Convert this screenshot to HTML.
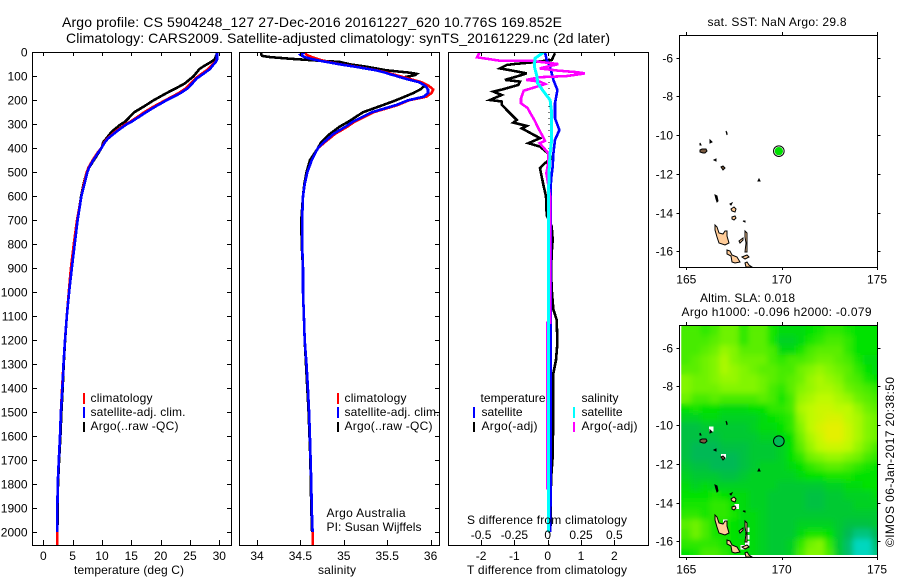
<!DOCTYPE html>
<html>
<head>
<meta charset="utf-8">
<title>Argo profile</title>
<style>
html,body{margin:0;padding:0;background:#fff;width:900px;height:580px;overflow:hidden}
svg{display:block}
text{font-family:"Liberation Sans",sans-serif;font-size:12px;fill:#000}
</style>
</head>
<body>
<svg id="chart" xmlns="http://www.w3.org/2000/svg" width="900" height="580" viewBox="0 0 900 580">
<defs>
<clipPath id="heat-clip"><rect x="681" y="326" width="196" height="229"/></clipPath>
<clipPath id="p1-clip"><rect x="32" y="52" width="200" height="493"/></clipPath>
<clipPath id="p2-clip"><rect x="239" y="52" width="201" height="493"/></clipPath>
<clipPath id="p3-clip"><rect x="448" y="52" width="201" height="493"/></clipPath>
<filter id="heat-smooth" filterUnits="userSpaceOnUse" x="670" y="315" width="220" height="250">
<feGaussianBlur in="SourceGraphic" stdDeviation="3" result="soft"/>
<feMerge><feMergeNode in="SourceGraphic"/><feMergeNode in="soft"/></feMerge>
</filter>
<g id="islands" stroke="#000" stroke-width="1" fill="#ffcc99">
<polygon points="715,225 717,227 719,233 723,234 725,231 727,231 727,236 729,243 725,245 719,243 717,237 715,230"/>
<polygon points="727,250 730,251 732,255 737,257 740,262 735,263 732,262 731,256 727,254"/>
<polygon points="739,241 743,238 743,240 740,243"/>
<polygon points="745,231 747,233 747,240 747,247 747,252 745,252 746,243 745,237"/>
<polygon points="742,257 747,255 749,257 745,259"/>
<polygon points="745,263 747,262 749,265 752,267 746,267"/>
<polygon points="731,209 734,207 736,209 735,212 732,211"/>
<polygon points="732,217 735,216 736,218 734,220 732,219"/>
<polygon points="700,150 702,149 706,149 707,151 705,153 703,153 700,152" fill="#7a5a40"/>
<polygon points="721,167 723,166 725,168 723,170" fill="#7a5a40"/>
<polygon points="714,160 716,159 716,161" fill="#000"/>
<polygon points="710,140 712,142 710,143" fill="#000"/>
<polygon points="726,131 727,133 727,135" fill="none"/>
<polygon points="715,195 717,196 718,201 717,202 716,199" fill="#000"/>
<polygon points="759,179 760,181 758,181" fill="#000"/>
<polygon points="730,204 732,203 731,205" fill="#000"/>
<polygon points="743,221 745,221 745,222" fill="#000"/>
<polygon points="700,143 701,145 700,145" fill="#000"/>
</g>
</defs>

<text x="62" y="27" style="font-size:14px" textLength="500" lengthAdjust="spacing">Argo profile: CS 5904248_127 27-Dec-2016 20161227_620 10.776S 169.852E</text>
<text x="66" y="43" style="font-size:14px" textLength="544" lengthAdjust="spacing">Climatology: CARS2009. Satellite-adjusted climatology: synTS_20161229.nc (2d later)</text>

<text x="74" y="574" textLength="110" lengthAdjust="spacing">temperature (deg C)</text>
<text x="318" y="574" textLength="38" lengthAdjust="spacing">salinity</text>
<text x="467" y="574" textLength="160" lengthAdjust="spacing">T difference from climatology</text>

<g id="plots"></g>

<text x="467" y="524" textLength="160" lengthAdjust="spacing">S difference from climatology</text>

<text x="90.5" y="402" textLength="62" lengthAdjust="spacing">climatology</text>
<text x="90.5" y="416" textLength="95" lengthAdjust="spacing">satellite-adj. clim.</text>
<text x="90.5" y="430" textLength="88" lengthAdjust="spacing">Argo(..raw -QC)</text>
<rect x="83" y="393" width="2" height="11" fill="#f00"/>
<rect x="83" y="407" width="2" height="11" fill="#00f"/>
<rect x="83" y="422" width="2" height="10" fill="#000"/>

<text x="344.5" y="402" textLength="62" lengthAdjust="spacing">climatology</text>
<text x="344.5" y="416" textLength="95" lengthAdjust="spacing">satellite-adj. clim.</text>
<text x="344.5" y="430" textLength="88" lengthAdjust="spacing">Argo(..raw -QC)</text>
<rect x="337" y="393" width="2" height="11" fill="#f00"/>
<rect x="337" y="407" width="2" height="11" fill="#00f"/>
<rect x="337" y="422" width="2" height="10" fill="#000"/>

<text x="326.5" y="517" textLength="79" lengthAdjust="spacing">Argo Australia</text>
<text x="326.5" y="531" textLength="95" lengthAdjust="spacing">PI: Susan Wijffels</text>

<text x="480.5" y="402" textLength="65" lengthAdjust="spacing">temperature</text>
<text x="481.5" y="416" textLength="41" lengthAdjust="spacing">satellite</text>
<text x="481.5" y="430" textLength="56" lengthAdjust="spacing">Argo(-adj)</text>
<text x="581.5" y="402" textLength="37" lengthAdjust="spacing">salinity</text>
<text x="581.5" y="416" textLength="41" lengthAdjust="spacing">satellite</text>
<text x="581.5" y="430" textLength="56" lengthAdjust="spacing">Argo(-adj)</text>
<rect x="473" y="407" width="2" height="11" fill="#00f"/>
<rect x="473" y="422" width="2" height="10" fill="#000"/>
<rect x="573" y="407" width="2" height="11" fill="#0ff"/>
<rect x="573" y="422" width="2" height="10" fill="#f0f"/>

<text x="707.5" y="26" textLength="139" lengthAdjust="spacing">sat. SST: NaN Argo: 29.8</text>
<text x="700" y="302" textLength="95" lengthAdjust="spacing">Altim. SLA: 0.018</text>
<text x="681.5" y="316" textLength="190" lengthAdjust="spacing">Argo h1000: -0.096 h2000: -0.079</text>
<text transform="translate(894,547) rotate(-90)" x="0" y="0" textLength="170" lengthAdjust="spacing">©IMOS 06-Jan-2017 20:38:50</text>
</svg>

<script>
// ---- profile data ----
const tempDepths = [0,30,40,60,70,100,110,130,150,170,200,225,250,290,300,330,360,375,395,420,450,480,500,550,600,700,800,900,1000,1100,1200,1300,1400,1500,1600,1700,1800,1900,2000,2055];
const tempClimatology = [29.7,29.6,29.3,28.5,28.1,26.4,25.9,25.1,24.3,23.1,20.8,18.9,17.2,14.8,14,12.3,10.9,10.4,10,9.2,8.4,7.7,7.4,6.9,6.5,5.75,5.2,4.7,4.35,4.0,3.7,3.45,3.2,3.0,2.85,2.65,2.45,2.4,2.37,2.37];
const tempSatellite = [29.6,29.6,29.4,28.7,28.4,26.7,26.1,25.4,24.6,23.4,21,19.2,17.5,15,14.2,12.5,11,10.5,10,9.3,8.5,7.8,7.5,7,6.5,5.85,5.35,4.85,4.4,4.0,3.7,3.45,3.25,3.0,2.85,2.65,2.45,2.4,2.37];
const tempArgo = [29.7,29.2,28.6,27.2,26.6,25.6,25.1,24.1,22.6,21,18.8,17.2,15.5,13.9,13.2,11.7,10.7,10.2,10,9.4,8.6,7.8,7.4,6.85,6.45,5.85,5.35,4.85,4.4,4.0,3.72,3.47,3.3,3.08,2.92,2.7,2.5,2.43,2.4];

const salDepths = [0,10,15,20,28,35,40,50,60,75,85,90,95,105,115,125,140,155,170,185,200,220,250,290,310,340,375,400,450,500,550,600,700,800,900,1000,1100,1200,1300,1400,1500,1600,1700,1800,1900,2000,2055];
const salClimatology = [34.55,34.57,34.6,34.63,34.7,34.76,34.82,34.96,35.14,35.38,35.5,35.55,35.6,35.7,35.8,35.9,35.98,36.03,36.01,35.95,35.75,35.62,35.34,35.12,35.04,34.9,34.78,34.7,34.63,34.58,34.55,34.53,34.52,34.52,34.53,34.53,34.54,34.55,34.57,34.586,34.6,34.61,34.617,34.625,34.63,34.64,34.64];
const salSatellite = [34.55,34.5,34.52,34.55,34.63,34.72,34.8,34.95,35.13,35.37,35.48,35.52,35.57,35.66,35.76,35.87,35.94,35.97,35.97,35.92,35.74,35.6,35.32,35.1,35.02,34.88,34.77,34.7,34.63,34.58,34.55,34.53,34.52,34.52,34.53,34.53,34.54,34.55,34.57,34.586,34.6,34.61,34.617,34.625,34.63,34.64];
const salArgo = [34.05,34.05,34.06,34.15,34.42,34.72,34.95,35.07,35.26,35.49,35.76,35.84,35.82,35.68,35.76,35.9,35.93,35.88,35.8,35.7,35.6,35.45,35.22,35.05,34.95,34.84,34.74,34.7,34.61,34.57,34.545,34.53,34.51,34.515,34.53,34.53,34.54,34.55,34.565,34.58,34.595,34.605,34.615,34.62,34.625,34.635];

// ---- difference panel data ----
const diffArgoTDepths = [4,32,43,49,53,67,76,88,101,115,122,136,154,164,178,199,205,219,247,282,293,307,317,358,379,393,428,442,462,483,518,553,601,680,726,782,837,920,1004,1073,1115,1212,1282,1337,1449,1684,1781,1975];
const diffArgoT = [0.22,0.12,-0.53,-1.03,-1.23,-1.43,-1.08,-0.63,-0.93,-1.28,-0.83,-0.88,-1.33,-1.63,-1.38,-1.73,-1.38,-1.38,-1.18,-0.93,-1.03,-0.63,-0.78,-0.23,-0.58,-0.23,0.07,0.12,-0.08,-0.23,-0.18,-0.13,-0.05,-0.03,0.12,0.15,0.12,0.1,0.13,0.17,0.27,0.29,0.25,0.17,0.17,0.15,0.1,0.09];
const diffSatTDepths = [0,32,60,115,157,212,275,324,365,421,476,532,601,1000,1448,2000];
const diffSatT = [-0.08,-0.03,0.07,0.17,0.29,0.22,0.22,0.35,0.22,0.17,0.15,0.1,0.09,0.09,0.09,0.08];
const diffArgoSDepths = [0,21,35,35,49,67,76,83,88,99,104,115,122,132,143,160,192,212,233,254,282,317,358,369,379,421,456,504,601,726,1128,1128,1823];
const diffArgoS = [-0.51,-0.53,-0.36,-0.13,0.08,-0.06,0.07,0.22,0.28,0.14,-0.06,-0.16,-0.06,-0.02,-0.08,-0.18,-0.2,-0.2,-0.15,-0.13,-0.1,-0.07,-0.03,-0.02,-0.06,0.005,0.005,-0.01,0.018,0.018,0.018,-0.004,-0.004];
const diffSatSDepths = [0,25,60,101,129,164,199,254,365,421,504,601,1000,1500,2000];
const diffSatS = [-0.03,-0.095,-0.1,-0.08,-0.075,-0.03,0.018,0.03,0.03,0.018,0.01,0.006,0.006,0.006,0.005];

// ---- tick labels ----
const depthTicks = [0,100,200,300,400,500,600,700,800,900,1000,1100,1200,1300,1400,1500,1600,1700,1800,1900,2000];
const tempTicks = [0,5,10,15,20,25,30];
const salTicks = [34,34.5,35,35.5,36];
const tDiffTicks = [-2,-1,0,1,2];
const sDiffTicks = [-0.5,-0.25,0,0.25,0.5];
const lonTicks = [165,170,175];
const latTicks = [-6,-8,-10,-12,-14,-16];
const floatLon = [169.852];
const floatLat = [-10.776];

// ---- SLA heatmap (cm) read per half-degree cell ----
const slaLons = [165,165.5,166,166.5,167,167.5,168,168.5,169,169.5,170,170.5,171,171.5,172,172.5,173,173.5,174,174.5,175];
const slaLats = [-5.125,-5.625,-6.125,-6.625,-7.125,-7.625,-8.125,-8.625,-9.125,-9.625,-10.125,-10.625,-11.125,-11.625,-12.125,-12.625,-13.125,-13.625,-14.125,-14.625,-15.125,-15.625,-16.125,-16.625];
const slaRow00 = [3,3,2,3,5,5,2,4,4,1,-1,-1,-1,0,1,2,2,1,0,0,0];
const slaRow01 = [3,3,3,4,5,5,2,4,4,1,-2,-2,-1,1,2,3,3,2,0,0,0];
const slaRow02 = [3,3,4,5,7,6,4,4,4,3,-1,-1,1,3,4,4,4,2,0,0,0];
const slaRow03 = [3,4,5,6,8,6,5,5,5,3,2,3,3,4,5,5,4,3,1,-1,-1];
const slaRow04 = [4,4,5,6,8,7,6,5,4,4,3,3,5,6,7,6,5,4,2,0,-1];
const slaRow05 = [6,5,5,6,7,7,6,6,5,4,3,4,5,7,8,7,6,4,3,1,0];
const slaRow06 = [6,5,5,5,6,6,6,6,5,3,2,4,6,7,8,8,7,5,4,3,2];
const slaRow07 = [5,3,3,4,3,3,3,3,4,3,1,3,7,8,9,9,8,7,5,4,3];
const slaRow08 = [0,1,0,0,-1,-1,-1,0,0,2,2,3,8,9,10,10,9,9,7,5,4];
const slaRow09 = [-2,-2,-1,-1,-2,-2,-2,-2,-1,0,1,2,7,9,10,11,11,9,8,6,5];
const slaRow10 = [-4,-4,-3,-3,-3,-3,-3,-2,-1,-1,0,2,6,9,11,12,12,10,8,6,5];
const slaRow11 = [-4,-4,-4,-4,-3,-3,-3,-3,-2,-2,-1,0,5,8,10,12,12,10,8,6,5];
const slaRow12 = [-4,-5,-5,-5,-4,-4,-4,-3,-3,-3,-2,0,4,7,9,10,10,9,7,5,3];
const slaRow13 = [-4,-5,-5,-5,-5,-5,-4,-3,-3,-3,-2,0,2,5,6,7,7,6,5,3,2];
const slaRow14 = [-3,-4,-4,-5,-5,-5,-4,-3,-2,-2,-2,-1,0,2,3,4,4,3,2,1,0];
const slaRow15 = [-2,-3,-3,-3,-4,-4,-3,-2,-2,-2,-2,-2,-1,0,0,1,1,1,0,0,0];
const slaRow16 = [-1,-2,-1,-2,-2,-2,-2,-2,-2,-2,-3,-3,-3,-3,-3,-2,-2,-1,-1,0,0];
const slaRow17 = [0,0,0,1,0,-1,-1,-2,-2,-3,-3,-3,-3,-4,-4,-3,-3,-2,-2,-2,-1];
const slaRow18 = [1,1,1,2,2,0,-1,-2,-2,-3,-3,-3,-3,-4,-4,-3,-3,-3,-2,-2,-2];
const slaRow19 = [2,2,1,2,2,1,-1,-1,-2,-3,-3,-3,-3,-3,-3,-3,-3,-3,-3,-3,-3];
const slaRow20 = [4,5,3,1,1,0,-1,-1,-2,-3,-3,-3,-2,-2,-2,-2,-3,-4,-4,-4,-3];
const slaRow21 = [3,5,3,1,1,0,-1,-1,-2,-3,-3,-3,-1,1,1,0,-3,-5,-7,-7,-5];
const slaRow22 = [2,2,2,2,1,0,0,-1,-2,-3,-3,-2,2,5,6,2,-3,-6,-10,-10,-6];
const slaRow23 = [0,1,3,3,2,0,0,-1,-2,-3,-3,-2,3,6,6,3,-3,-6,-10,-10,-7];
const slaGrid = [slaRow00,slaRow01,slaRow02,slaRow03,slaRow04,slaRow05,slaRow06,slaRow07,slaRow08,slaRow09,slaRow10,slaRow11,slaRow12,slaRow13,slaRow14,slaRow15,slaRow16,slaRow17,slaRow18,slaRow19,slaRow20,slaRow21,slaRow22,slaRow23];

// ---- axis functions ----
const yDepth = d => 52.3 + d * 0.2399;
const xTemp = t => 43.3 + t * 5.867;
const xSal = s => 257 + (s - 34) * 86.8;
const xTDiff = t => 547.7 + t * 33.33;
const xSDiff = s => 547.7 + s * 133.3;
const xLon = l => 686.3 + (l - 165) * 19.07;
const yLat = (l, top) => top + 22.7 + (-6 - l) * 19.36;

const NS = 'http://www.w3.org/2000/svg';
const root = document.getElementById('plots');
function make(tag, attrs, parent) {
  const e = document.createElementNS(NS, tag);
  for (const k in attrs) e.setAttribute(k, attrs[k]);
  (parent || root).appendChild(e);
  return e;
}
function tickLine(name, x1, y1, x2, y2) {
  const e = make('line', {x1, y1, x2, y2, stroke: '#000', 'stroke-width': 1, 'shape-rendering': 'crispEdges'});
  
  
  return e;
}
function label(name, x, y, str, anchor) {
  const e = make('text', {x, y, 'text-anchor': anchor || 'middle'});
  e.textContent = str;
  
  
  return e;
}
function frame(name, x, y, w, h) {
  const e = make('rect', {x, y, width: w, height: h, fill: 'none', stroke: '#000', 'stroke-width': 1, 'shape-rendering': 'crispEdges'});
  
  
  return e;
}
function curve(name, xs, depths, xf, color, width, clip) {
  const pts = xs.map((v, i) => xf(v).toFixed(1) + ',' + yDepth(depths[i]).toFixed(1)).join(' ');
  const e = make('polyline', {points: pts, fill: 'none', stroke: color, 'stroke-width': width, 'clip-path': 'url(#' + clip + ')', 'stroke-linejoin': 'miter', 'shape-rendering': 'crispEdges'});
  
  
  return e;
}

// ---- panel 1: temperature ----
curve('temperature-argo-line', tempArgo, tempDepths, xTemp, '#000', 2.6, 'p1-clip');
curve('temperature-climatology-line', tempClimatology, tempDepths, xTemp, '#f00', 2.6, 'p1-clip');
curve('temperature-satellite-line', tempSatellite, tempDepths, xTemp, '#00f', 2.6, 'p1-clip');
// ---- panel 2: salinity ----
curve('salinity-argo-line', salArgo, salDepths, xSal, '#000', 2.6, 'p2-clip');
curve('salinity-climatology-line', salClimatology, salDepths, xSal, '#f00', 2.6, 'p2-clip');
curve('salinity-satellite-line', salSatellite, salDepths, xSal, '#00f', 2.6, 'p2-clip');
// ---- panel 3: differences ----
const zeroLine = make('line', {x1: xTDiff(0) + 1.3, y1: 52, x2: xTDiff(0) + 1.3, y2: 545, stroke: '#000', 'stroke-width': 1, 'stroke-dasharray': '1 5', 'shape-rendering': 'crispEdges'});


curve('t-diff-argo-line', diffArgoT, diffArgoTDepths, xTDiff, '#000', 2.6, 'p3-clip');
curve('t-diff-satellite-line', diffSatT, diffSatTDepths, xTDiff, '#00f', 2.6, 'p3-clip');
curve('s-diff-argo-line', diffArgoS, diffArgoSDepths, xSDiff, '#f0f', 2.6, 'p3-clip');
curve('s-diff-satellite-line', diffSatS, diffSatSDepths, xSDiff, '#0ff', 3, 'p3-clip');

frame('temperature-panel-frame', 32.5, 52.5, 199, 493);
frame('salinity-panel-frame', 239.5, 52.5, 200, 493);
frame('difference-panel-frame', 448.5, 52.5, 200, 493);

depthTicks.forEach(d => {
  const y = Math.round(yDepth(d)) + 0.5;
  tickLine('depth-tick-temp-left', 32, y, 37, y);
  tickLine('depth-tick-temp-right', 227, y, 232, y);
  tickLine('depth-tick-sal-right', 435, y, 440, y);
  label('depth-tick-label', 27.5, y + 4, String(d), 'end');
});
tempTicks.forEach(t => {
  const x = Math.round(xTemp(t)) + 0.5;
  tickLine('temperature-tick-bottom', x, 540, x, 545);
  tickLine('temperature-tick-top', x, 53, x, 56);
  label('temperature-tick-label', xTemp(t), 560, String(t));
});
salTicks.forEach(s => {
  const x = Math.round(xSal(s)) + 0.5;
  tickLine('salinity-tick-bottom', x, 540, x, 545);
  tickLine('salinity-tick-top', x, 53, x, 56);
  label('salinity-tick-label', xSal(s), 560, String(s));
});
tDiffTicks.forEach(t => {
  const x = Math.round(xTDiff(t)) + 0.5;
  tickLine('t-difference-tick-bottom', x, 540, x, 545);
  tickLine('t-difference-tick-top', x, 53, x, 56);
  label('t-difference-tick-label', xTDiff(t), 560, String(t));
});
sDiffTicks.forEach(s => {
  label('s-difference-tick-label', xSDiff(s), 539, String(s));
});

// ---- heatmap ----
const heatStops = [-10, -5, -2.5, 0, 3, 6, 9, 12];
const heatR = [0, 0, 0, 0, 70, 130, 190, 228];
const heatG = [215, 185, 205, 226, 235, 245, 250, 240];
const heatB = [190, 85, 40, 0, 0, 0, 0, 0];
function heatColor(v) {
  let i = 0;
  while (i < heatStops.length - 2 && v > heatStops[i + 1]) i++;
  const f = Math.max(0, Math.min(1, (v - heatStops[i]) / (heatStops[i + 1] - heatStops[i])));
  const c = a => Math.round(a[i] + (a[i + 1] - a[i]) * f);
  return 'rgb(' + c(heatR) + ',' + c(heatG) + ',' + c(heatB) + ')';
}
const heatClip = make('g', {'clip-path': 'url(#heat-clip)'});


const heatGroup = make('g', {filter: 'url(#heat-smooth)', 'shape-rendering': 'crispEdges'}, heatClip);


slaGrid.forEach((row, r) => {
  row.forEach((v, c) => {
    const x0 = xLon(slaLons[c] - 0.25), x1 = xLon(slaLons[c] + 0.25);
    const y0 = yLat(slaLats[r] + 0.25, 325), y1 = yLat(slaLats[r] - 0.25, 325);
    const cell = make('rect', {x: x0.toFixed(2), y: y0.toFixed(2), width: (x1 - x0 + 0.6).toFixed(2), height: (y1 - y0 + 0.6).toFixed(2), fill: heatColor(v)}, heatGroup);
    
    
  });
});

// missing-data cells on the SLA map
const whiteCellLon = [166.3, 166.95, 167.05, 167.65, 168.2, 168.2, 168.2, 167.95];
const whiteCellLat = [-10.2, -11.6, -15.0, -14.2, -15.4, -15.8, -16.1, -16.3];
whiteCellLon.forEach((lon, i) => {
  const w = make('rect', {x: (xLon(lon) - 2.3).toFixed(1), y: (yLat(whiteCellLat[i], 325) - 2.3).toFixed(1), width: 4.6, height: 4.6, fill: '#fff', 'shape-rendering': 'crispEdges'});
  
  
});

// ---- maps ----
function addMap(name, top, bottom) {
  const isl = make('use', {href: '#islands', transform: 'translate(0,' + (top - 35) + ')'});
  
  
  frame(name + '-frame', 679.5, top + 0.5, 198, bottom - top);
  lonTicks.forEach(l => {
    const x = Math.round(xLon(l)) + 0.5;
    tickLine(name + '-lon-tick-top', x, top - 3, x, top);
    tickLine(name + '-lon-tick-bottom', x, bottom, x, bottom + 3);
    label(name + '-lon-label', xLon(l), bottom + 16.5, String(l));
  });
  latTicks.forEach(l => {
    const y = Math.round(yLat(l, top)) + 0.5;
    tickLine(name + '-lat-tick-left', 676.5, y, 679.5, y);
    tickLine(name + '-lat-tick-right', 877.5, y, 880.5, y);
    label(name + '-lat-label', 673, y + 4, String(l), 'end');
  });
}
addMap('sst-map', 35, 267);
addMap('sla-map', 325, 557);

const mkRing = make('circle', {cx: xLon(floatLon[0]), cy: yLat(floatLat[0], 35) + 1, r: 5.3, fill: '#fff', stroke: '#000', 'stroke-width': 1});


const mkFill = make('circle', {cx: xLon(floatLon[0]), cy: yLat(floatLat[0], 35) + 1, r: 4.2, fill: '#00e000'});


const mkSla = make('circle', {cx: xLon(floatLon[0]), cy: yLat(floatLat[0], 325) + 1, r: 5.3, fill: '#00bb55', stroke: '#000', 'stroke-width': 1});


</script>
</body>
</html>
